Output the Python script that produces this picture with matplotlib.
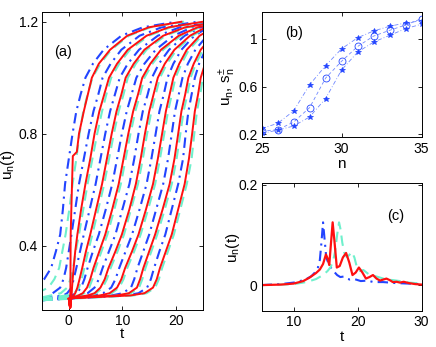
import matplotlib
matplotlib.use("Agg")
import matplotlib.pyplot as plt

plt.rcParams["font.family"] = ["Liberation Sans", "DejaVu Sans"]
plt.rcParams["mathtext.fontset"] = "custom"
plt.rcParams["mathtext.rm"] = "Liberation Sans"
plt.rcParams["mathtext.it"] = "Liberation Sans"

RED = "#ff1010"
BLUE = "#2244ff"
CYAN = "#6ff0cc"
LIGHT = "#7088ff"

# ---- panel (a): time at which each curve crosses these u levels ----
u_levels = [0.23, 0.25, 0.28, 0.32, 0.38, 0.44, 0.53, 0.62, 0.71, 0.8, 0.88, 0.94,
            1.0, 1.05, 1.1, 1.15, 1.18, 1.2]

red1_t = [0.0, 0.25, 0.3, 0.35, 0.6, 0.75, 1.5, 1.9, 2.8, 4.3, 5.6, 7.7, 10.9, 14.9, 21.0]
red1_u = [0.21, 0.178, 0.25, 0.44, 0.62, 0.72, 0.735, 0.8, 0.88, 1.0, 1.05, 1.1, 1.15, 1.18, 1.2]

red_t = [
    [0.55, 0.6, 0.72, 0.9, 1.2, 1.6, 2.3, 3.1, 4.0, 4.8, 5.7, 6.6, 7.5, 9.0, 11.0, 14.5, 18.6, 25.0],
    [1.2, 1.6, 2.0, 2.5, 3.2, 4.0, 5.1, 6.2, 7.1, 8.0, 8.9, 9.8, 10.6, 12.1, 14.1, 17.6, 21.7, 28.0],
    [2.6, 3.4, 4.0, 4.6, 5.7, 6.8, 8.1, 9.3, 10.2, 11.1, 12.0, 12.9, 13.7, 15.2, 17.2, 20.5, 24.0, 29.0],
    [4.8, 5.9, 6.7, 7.4, 8.7, 9.9, 11.3, 12.5, 13.4, 14.2, 15.0, 15.8, 16.6, 17.9, 19.7, 22.6, 25.5, 30.0],
    [7.6, 9.0, 9.8, 10.5, 11.8, 13.0, 14.4, 15.7, 16.6, 17.4, 18.1, 18.8, 19.5, 20.6, 22.0, 24.4, 27.0, 31.0],
    [11.2, 12.7, 13.3, 13.9, 15.0, 16.1, 17.5, 18.8, 19.7, 20.4, 21.0, 21.7, 22.3, 23.3, 24.6, 26.8, 29.0, 32.0],
    [14.1, 15.7, 16.4, 17.0, 18.1, 19.2, 20.4, 21.6, 22.4, 23.0, 23.5, 24.1, 24.6, 25.4, 26.5, 28.5, 30.5, 33.0],
]
red_start_t = [0.0, 0.25, 0.45]
red_start_u = [0.21, 0.178, 0.212]
red_knee_t = [0.5, 0.9, 1.8, 3.5, 5.8, 8.9, 11.5]

blue_t = [
    [-8.0, -6.0, -4.6, -3.3, -2.4, -1.6, -1.1, -0.7, 0.0, 0.7, 1.4, 2.2, 3.1, 4.5, 6.5, 9.8, 13.8, 20.0],
    [-3.0, -1.6, -1.0, -0.5, 0.0, 0.5, 1.2, 1.9, 2.8, 3.7, 4.6, 5.5, 6.3, 7.8, 9.8, 13.2, 17.3, 24.0],
    [-0.3, 0.5, 0.9, 1.4, 2.1, 2.8, 3.9, 5.0, 5.9, 6.8, 7.7, 8.6, 9.5, 11.0, 13.1, 16.6, 20.7, 27.0],
    [1.4, 2.3, 2.9, 3.5, 4.5, 5.6, 6.9, 8.1, 9.0, 9.9, 10.8, 11.7, 12.6, 14.1, 16.2, 19.5, 23.0, 28.0],
    [3.5, 4.8, 5.6, 6.3, 7.5, 8.7, 10.0, 11.3, 12.2, 13.0, 13.8, 14.7, 15.5, 16.8, 18.7, 21.6, 24.6, 29.0],
    [6.4, 7.9, 8.7, 9.4, 10.6, 11.8, 13.2, 14.5, 15.4, 16.2, 16.9, 17.7, 18.4, 19.5, 21.0, 23.4, 26.0, 30.0],
    [10.0, 11.6, 12.2, 12.8, 13.9, 15.0, 16.3, 17.6, 18.5, 19.2, 19.8, 20.5, 21.2, 22.2, 23.6, 25.8, 28.0, 31.0],
    [13.0, 14.6, 15.3, 15.9, 16.9, 18.0, 19.2, 20.4, 21.3, 21.8, 22.3, 22.9, 23.5, 24.3, 25.5, 27.5, 29.5, 32.0],
]
blue_tail_t = [[], [], [-5.0, -1.0], [-5.0, 0.5], [-5.0, 2.2], [-5.0, 4.7], [-5.0, 8.0], [-5.0, 10.5]]
blue_tail_u = [[], [], [0.213, 0.222], [0.208, 0.222], [0.206, 0.222],
               [0.205, 0.222], [0.205, 0.222], [0.205, 0.222]]

cyan_t = [
    [-6.0, -3.8, -2.7, -1.8, -1.2, -0.6, 0.1, 0.7, 1.4, 2.0, 2.7, 3.5, 4.4, 5.9, 7.9, 11.2, 15.2, 21.5],
    [-1.5, -0.3, 0.3, 0.8, 1.3, 1.9, 2.7, 3.5, 4.4, 5.3, 6.2, 7.0, 7.9, 9.4, 11.4, 14.9, 19.0, 25.5],
    [1.0, 1.9, 2.4, 2.9, 3.6, 4.4, 5.5, 6.6, 7.5, 8.4, 9.3, 10.2, 11.0, 12.5, 14.5, 18.0, 22.1, 28.5],
    [2.9, 3.8, 4.4, 5.0, 6.1, 7.2, 8.5, 9.7, 10.6, 11.5, 12.4, 13.3, 14.1, 15.6, 17.6, 20.9, 24.4, 29.5],
    [5.1, 6.3, 7.1, 7.8, 9.1, 10.3, 11.6, 12.9, 13.8, 14.6, 15.4, 16.2, 17.0, 18.3, 20.1, 23.0, 25.9, 30.5],
    [8.0, 9.4, 10.2, 10.9, 12.2, 13.4, 14.8, 16.1, 17.0, 17.8, 18.5, 19.2, 19.9, 21.0, 22.4, 24.8, 27.4, 31.5],
    [11.6, 13.1, 13.7, 14.3, 15.4, 16.5, 17.9, 19.2, 20.1, 20.8, 21.4, 22.1, 22.7, 23.7, 25.0, 27.2, 29.4, 32.5],
    [14.5, 16.1, 16.8, 17.4, 18.5, 19.6, 20.8, 22.0, 22.9, 23.4, 23.9, 24.5, 25.0, 25.8, 26.9, 28.9, 30.9, 33.5],
]
cyan_tail_t = [[], [-5.0], [-5.0, -0.5], [-5.0, 1.8], [-5.0, 4.0], [-5.0, 6.5], [-5.0, 9.5], [-5.0, 12.0]]
cyan_tail_u = [[], [0.215], [0.21, 0.222], [0.207, 0.222], [0.206, 0.222],
               [0.205, 0.222], [0.205, 0.222], [0.205, 0.222]]

# ---- panel (b) ----
n_sites = [25, 26, 27, 28, 29, 30, 31, 32, 33, 34, 35]
s_minus = [0.25, 0.292, 0.396, 0.615, 0.775, 0.916, 1.008, 1.065, 1.104, 1.132, 1.15]
u_sites = [0.228, 0.239, 0.303, 0.424, 0.671, 0.812, 0.935, 1.022, 1.07, 1.115, 1.168]
s_plus = [0.208, 0.236, 0.27, 0.346, 0.5, 0.739, 0.888, 0.972, 1.028, 1.084, 1.122]

# ---- panel (c) ----
red_c_t = [5, 8, 10, 11.5, 12.5, 13.5, 14.1, 14.6, 15.05, 15.35, 15.57, 15.85, 16.1, 16.4,
           16.75, 17.2, 17.7, 18.2, 18.7, 19.2, 19.7, 20.2, 20.75, 21.3, 21.85, 22.4, 22.95,
           23.5, 24.0, 24.5, 25.0, 25.5, 26.1, 26.6, 27.2, 28, 29, 30]
red_c_u = [0.0, 0.001, 0.003, 0.008, 0.015, 0.024, 0.031, 0.042, 0.061, 0.052, 0.040, 0.085,
           0.125, 0.085, 0.035, 0.038, 0.055, 0.064, 0.045, 0.020, 0.025, 0.035, 0.025, 0.013,
           0.016, 0.020, 0.013, 0.009, 0.011, 0.013, 0.010, 0.006, 0.0066, 0.005, 0.0066,
           0.004, 0.002, 0.001]
blue_c_t = [5, 8, 10, 11, 12, 12.8, 13.4, 13.8, 14.1, 14.35, 14.6, 14.85, 15.1, 15.4, 15.8,
            16.3, 16.8, 17.3, 17.8, 18.3, 18.8, 19.5, 20.5, 21.5, 22.5, 24, 26, 28, 30]
blue_c_u = [0.0, 0.002, 0.005, 0.008, 0.012, 0.018, 0.026, 0.035, 0.05, 0.085, 0.125, 0.09,
            0.055, 0.045, 0.035, 0.027, 0.02, 0.016, 0.017, 0.013, 0.011, 0.012, 0.008, 0.009,
            0.006, 0.006, 0.004, 0.003, 0.002]
cyan_c_t = [5, 8, 10, 12, 13.5, 14.6, 15.3, 15.8, 16.2, 16.5, 16.8, 17.1, 17.35, 17.6, 17.9,
            18.3, 18.7, 19.1, 19.5, 19.9, 20.4, 20.9, 21.4, 21.9, 22.7, 23.5, 24.5, 25.5, 26.6,
            28, 30]
cyan_c_u = [0.0, 0.001, 0.002, 0.006, 0.012, 0.02, 0.028, 0.036, 0.05, 0.068, 0.1, 0.125,
            0.11, 0.085, 0.065, 0.056, 0.06, 0.066, 0.055, 0.035, 0.028, 0.03, 0.025, 0.02,
            0.018, 0.015, 0.011, 0.01, 0.008, 0.005, 0.003]

DASHDOT = (0, (5, 2.5, 1, 2.5))
DASHED = (0, (5, 3))


def matlab_axes(ax):
    ax.tick_params(direction="in", top=True, right=True, length=3, width=0.6,
                   labelsize=10, pad=3)
    for s in ax.spines.values():
        s.set_linewidth(0.7)


fig = plt.figure(figsize=(4.36, 3.47), dpi=100)

ax_a = fig.add_axes([0.0963, 0.1066, 0.369, 0.859])
for k in range(8):
    ax_a.plot(blue_tail_t[k] + blue_t[k], blue_tail_u[k] + u_levels,
              color=BLUE, lw=1.5, ls=DASHDOT)
for k in range(8):
    ax_a.plot(cyan_tail_t[k] + cyan_t[k], cyan_tail_u[k] + u_levels,
              color=CYAN, lw=1.5, ls=DASHED)
ax_a.plot(red1_t, red1_u, color=RED, lw=1.4)
for k in range(7):
    ax_a.plot(red_start_t + [red_knee_t[k]] + red_t[k],
              red_start_u + [0.222] + u_levels, color=RED, lw=1.4)
ax_a.set_xlim(-5, 25)
ax_a.set_ylim(0.17, 1.235)
ax_a.set_xticks([0, 10, 20])
ax_a.set_yticks([0.4, 0.8, 1.2])
ax_a.set_yticklabels(["0.4", "0.8", "1.2"])
ax_a.set_xlabel("t", fontsize=11)
ax_a.set_ylabel(r"u$_n$(t)", fontsize=11)
ax_a.xaxis.set_label_coords(0.5, -0.058)
ax_a.yaxis.set_label_coords(-0.155, 0.487)
ax_a.text(0.13, 0.865, "(a)", transform=ax_a.transAxes, fontsize=10.5,
          ha="center", va="center")
matlab_axes(ax_a)

ax_b = fig.add_axes([0.600, 0.604, 0.367, 0.362])
ax_b.plot(n_sites, s_minus, color=LIGHT, lw=0.6, ls=DASHDOT, marker="*",
          ms=4, mfc=BLUE, mec=BLUE, mew=0.5)
ax_b.plot(n_sites, u_sites, color=LIGHT, lw=0.6, ls=(0, (4, 3)), marker="o",
          ms=5, mfc="none", mec=BLUE, mew=0.6)
ax_b.plot(n_sites, s_plus, color=LIGHT, lw=0.6, ls=DASHDOT, marker="*",
          ms=4, mfc=BLUE, mec=BLUE, mew=0.5)
ax_b.set_xlim(25, 35)
ax_b.set_ylim(0.175, 1.225)
ax_b.set_xticks([25, 30, 35])
ax_b.set_yticks([0.2, 0.6, 1.0])
ax_b.set_yticklabels(["0.2", "0.6", "1"])
ax_b.set_xlabel("n", fontsize=11)
ax_b.set_ylabel(r"u$_n$, s$_n^{\pm}$", fontsize=11)
ax_b.xaxis.set_label_coords(0.5, -0.155)
ax_b.yaxis.set_label_coords(-0.145, 0.4)
ax_b.text(0.2, 0.835, "(b)", transform=ax_b.transAxes, fontsize=10.5,
          ha="center", va="center")
matlab_axes(ax_b)

ax_c = fig.add_axes([0.600, 0.1046, 0.367, 0.369])
ax_c.plot(blue_c_t, blue_c_u, color=BLUE, lw=1.5, ls=DASHDOT)
ax_c.plot(cyan_c_t, cyan_c_u, color=CYAN, lw=1.5, ls=DASHED)
ax_c.plot(red_c_t, red_c_u, color=RED, lw=1.6)
ax_c.set_xlim(5, 30)
ax_c.set_ylim(-0.051, 0.204)
ax_c.set_xticks([10, 20, 30])
ax_c.set_yticks([0, 0.2])
ax_c.set_yticklabels(["0", "0.2"])
ax_c.set_xlabel("t", fontsize=11)
ax_c.set_ylabel(r"u$_n$(t)", fontsize=11)
ax_c.xaxis.set_label_coords(0.5, -0.15)
ax_c.yaxis.set_label_coords(-0.12, 0.49)
ax_c.text(0.84, 0.74, "(c)", transform=ax_c.transAxes, fontsize=10.5,
          ha="center", va="center")
matlab_axes(ax_c)

fig.savefig("out.png", dpi=100)
